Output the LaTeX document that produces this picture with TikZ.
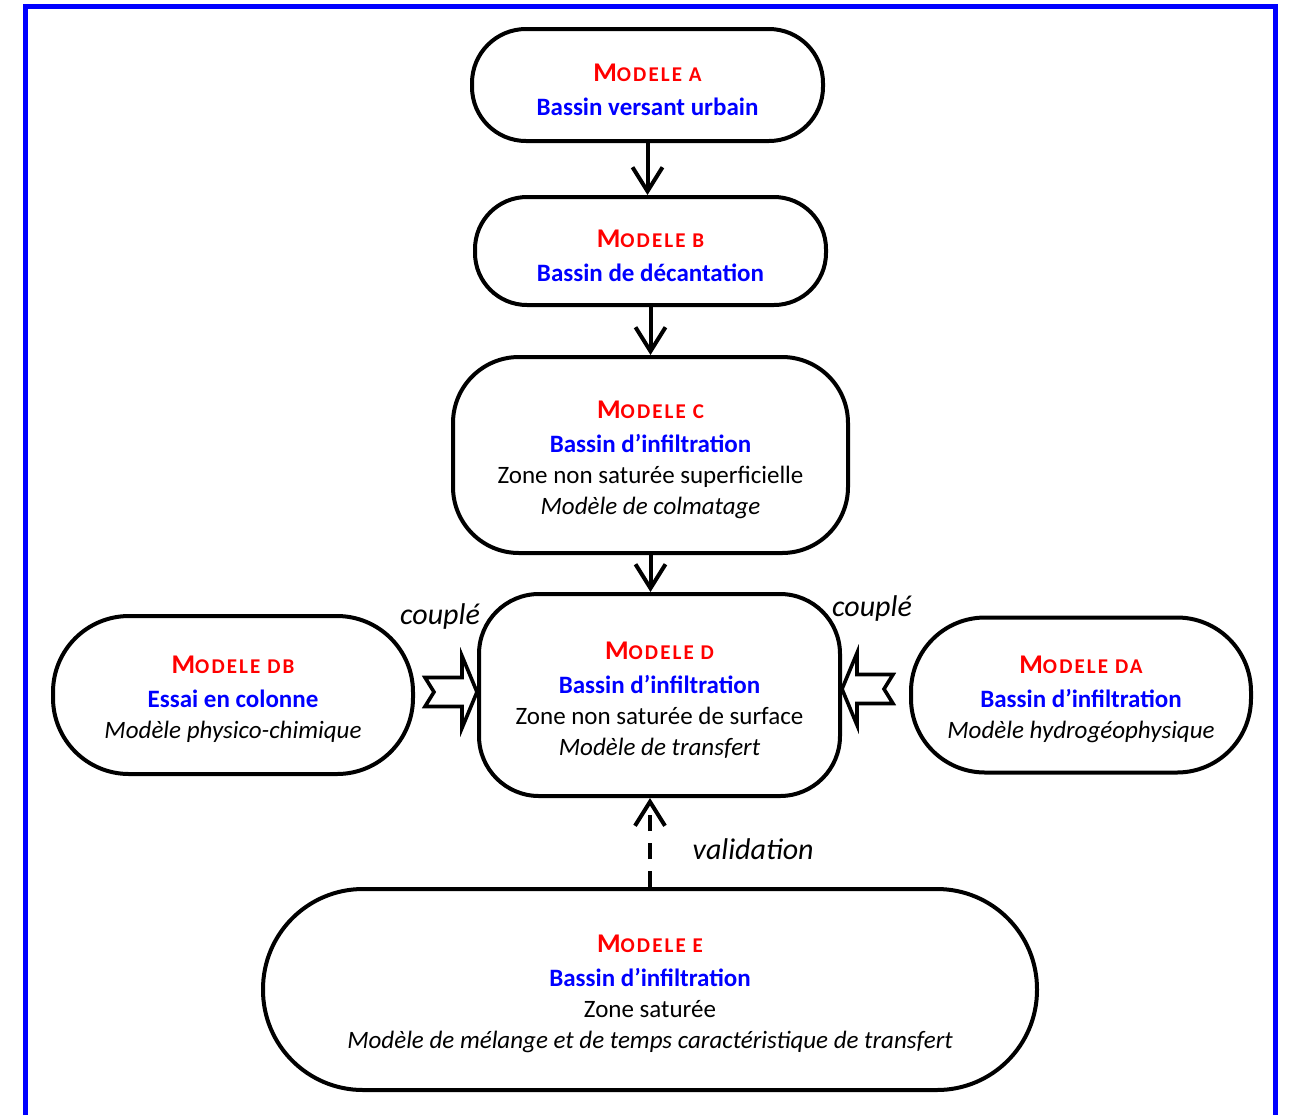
\documentclass[tikz,border=0pt]{standalone}
\usepackage{fontspec}
\setmainfont{Carlito}
\usetikzlibrary{arrows.meta,positioning,calc}

\definecolor{rouge}{RGB}{255,0,0}
\definecolor{bleu}{RGB}{0,0,255}
\newcommand{\titremodele}[1]{\rule{0pt}{13.5pt}\textcolor{rouge}{\bfseries\fontsize{13.5}{17}\selectfont M\fontsize{10.5}{12}\selectfont\addfontfeature{LetterSpace=10}ODELE #1}}
\newcommand{\bassin}[1]{\textcolor{bleu}{\bfseries #1}}

\begin{document}
\begin{tikzpicture}[
    modele/.style={draw, line width=2pt, align=center, inner sep=0pt, font=\fontsize{12.5}{15.5}\selectfont},
    lien/.style={line width=2pt, -{Straight Barb[length=12pt,width=15pt]}},
    creuse/.style={draw, line width=1.8pt, line join=miter},
    etiquette/.style={font=\fontsize{15}{18}\selectfont\itshape}
]
\useasboundingbox (0,0) rectangle (645.5pt,-557.5pt);
% Cadre
\draw[bleu, line width=2.6pt] (12.75pt,-557.5pt) -- (12.75pt,-3.25pt) -- (637.75pt,-3.25pt) -- (637.75pt,-557.5pt);

% Chaine principale
\node[modele, minimum width=175.5pt, minimum height=56pt, rounded corners=27pt] (a) at (323.75pt,-42.5pt) {\titremodele{A}\\[1.5pt]\bassin{Bassin versant urbain}};
\node[modele, minimum width=175.5pt, minimum height=54pt, rounded corners=26pt, below=26pt of a, xshift=1.5pt] (b) {\titremodele{B}\\[1.5pt]\bassin{Bassin de décantation}};
\node[modele, minimum width=197.5pt, minimum height=98pt, rounded corners=33pt, below=24pt of b] (c) {\titremodele{C}\\[1.5pt]\bassin{Bassin d’infiltration}\\Zone non saturée superficielle\\\textit{Modèle de colmatage}};
\node[modele, minimum width=180.5pt, minimum height=101pt, rounded corners=30pt, below=18.5pt of c, xshift=4.5pt] (d) {\titremodele{D}\\[1.5pt]\bassin{Bassin d’infiltration}\\Zone non saturée de surface\\\textit{Modèle de transfert}};

% Modeles couples
\node[modele, minimum width=180pt, minimum height=79pt, rounded corners=38pt, left=31pt of d] (db) {\titremodele{DB}\\[1.5pt]\bassin{Essai en colonne}\\\textit{Modèle physico-chimique}};
\node[modele, minimum width=170pt, minimum height=77.5pt, rounded corners=37pt, right=33.5pt of d] (da) {\titremodele{DA}\\[1.5pt]\bassin{Bassin d’infiltration}\\\textit{Modèle hydrogéophysique}};

% Zone saturee
\node[modele, minimum width=387pt, minimum height=100.5pt, rounded corners=50pt, below=44.5pt of d, xshift=-4.75pt] (e) {\titremodele{E}\\[1.5pt]\bassin{Bassin d’infiltration}\\Zone saturée\\\textit{Modèle de mélange et de temps caractéristique de transfert}};

% Liens
\draw[lien] (a.south) -- (a.south |- b.north);
\draw[lien] (b.south) -- (b.south |- c.north);
\draw[lien] (c.south) -- (c.south |- d.north);
\draw[lien, dash pattern=on 8pt off 6pt] (e.north) -- node[etiquette, pos=0.42, right=17pt] (valid) {validation} (e.north |- d.south);

% Fleches creuses
\coordinate (pointeg) at ($(d.west)+(0,1.5pt)$);
\coordinate (pointed) at ($(d.east)+(0,3pt)$);
\draw[creuse] (pointeg) -- ++(-7.5pt,18pt) -- ++(0,-10.75pt) -- ++(-18.5pt,0) -- ++(4.5pt,-7.25pt) -- ++(-4.5pt,-7.25pt) -- ++(18.5pt,0) -- ++(0,-10.75pt) -- cycle;
\draw[creuse] (pointed) -- ++(7.5pt,18pt) -- ++(0,-10.75pt) -- ++(18pt,0) -- ++(-4.5pt,-7.25pt) -- ++(4.5pt,-7.25pt) -- ++(-18pt,0) -- ++(0,-10.75pt) -- cycle;
\node[etiquette] (coupleg) at ($(pointeg)+(-18.5pt,38pt)$) {couplé};
\node[etiquette] (coupled) at ($(pointed)+(15pt,40.5pt)$) {couplé};
\end{tikzpicture}
\end{document}
